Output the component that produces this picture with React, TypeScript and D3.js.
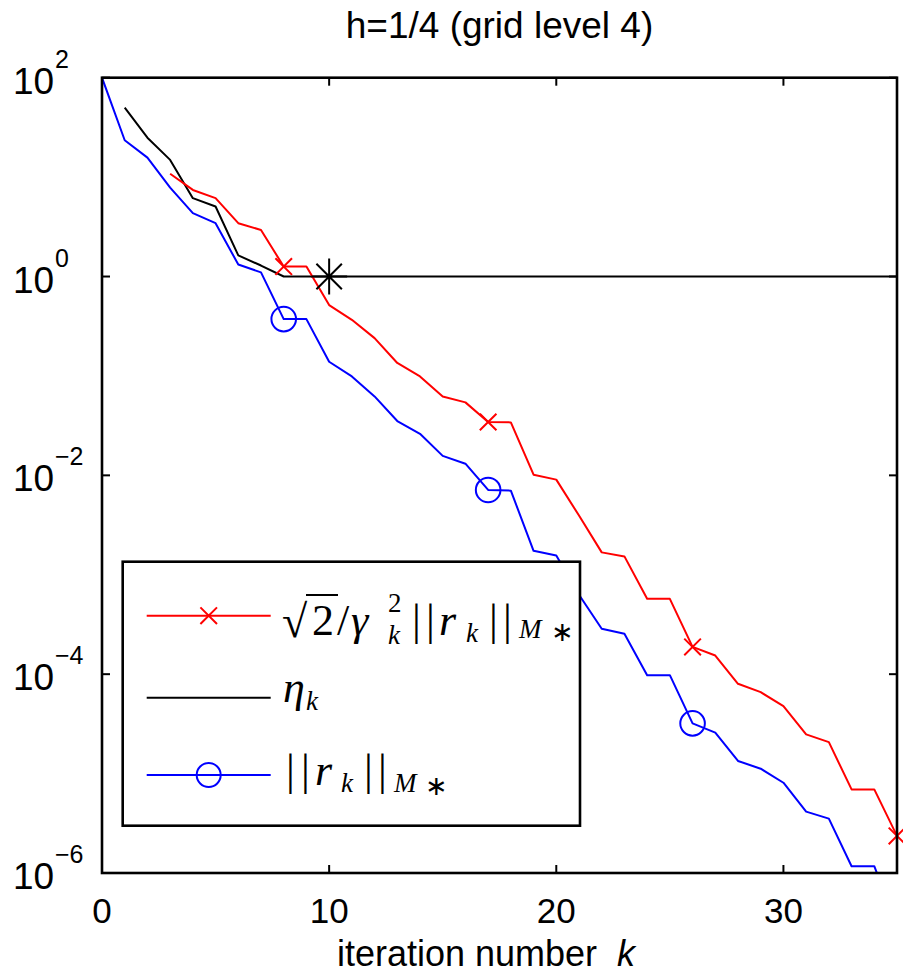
import * as d3 from 'd3'

// iteration numbers and the three series (log y)
const blueK = d3.range(0, 36)
const blueVals = [100, 23.5, 15.7, 7.83, 4.34, 3.44, 1.32, 1.10, 0.373, 0.373, 0.139, 0.0989, 0.0622, 0.0352,
  0.0262, 0.0157, 0.0131, 0.00713, 0.00702, 0.00174, 0.00156, 0.00063, 0.000286, 0.000255, 9.77e-5, 9.77e-5,
  3.2e-5, 2.58e-5, 1.34e-5, 1.12e-5, 8.09e-6, 4.14e-6, 3.52e-6, 1.17e-6, 1.17e-6, 2.95e-7]
const redK = d3.range(3, 36)
const redVals = [10.8, 7.43, 6.14, 3.44, 2.94, 1.26, 1.26, 0.516, 0.367, 0.240, 0.135, 0.0989, 0.0622, 0.0542,
  0.0344, 0.0341, 0.01016, 0.00906, 0.00394, 0.00168, 0.00153, 0.000573, 0.000573, 0.000188, 0.000154, 8.0e-5,
  6.59e-5, 4.76e-5, 2.48e-5, 2.07e-5, 6.93e-6, 6.93e-6, 2.36e-6]
const blackK = d3.range(1, 36)
const blackVals = [50.0, 24.9, 14.9, 6.14, 5.06, 1.63, 1.29, 1, 1, 1, 1, 1, 1, 1, 1, 1, 1, 1, 1, 1, 1, 1, 1, 1,
  1, 1, 1, 1, 1, 1, 1, 1, 1, 1, 1]

const markerK = [8, 17, 26, 35]
const starK = [10]
const xTicks = [0, 10, 20, 30]
const yTicks = [1e2, 1e0, 1e-2, 1e-4, 1e-6]
const yExp = ['2', '0', '\u22122', '\u22124', '\u22126']

const W = 903, H = 978
const L = 102, R = 897, T = 77.7, B = 873

const x = d3.scaleLinear().domain([0, 35]).range([L, R])
const y = d3.scaleLog().domain([1e-6, 1e2]).range([B, T])

const SANS = '"Liberation Sans", Arial, Helvetica, sans-serif'
const SERIF = '"Liberation Serif", "Times New Roman", serif'

type P = { k: number; v: number }
const zip = (ks: number[], vs: number[]): P[] => ks.map((k, i) => ({ k, v: vs[i] }))
const blue = zip(blueK, blueVals)
const red = zip(redK, redVals)
const black = zip(blackK, blackVals)

const line = d3.line<P>().x(d => x(d.k)).y(d => y(d.v))
const inView = (p: P) => p.v >= 1e-6 && p.v <= 1e2

function Cross({ cx, cy, r, color }: { cx: number; cy: number; r: number; color: string }) {
  return (
    <path d={`M${cx - r},${cy - r}L${cx + r},${cy + r}M${cx - r},${cy + r}L${cx + r},${cy - r}`}
      stroke={color} strokeWidth={2} fill="none" />
  )
}

function Star({ cx, cy, r }: { cx: number; cy: number; r: number }) {
  const d = r * Math.SQRT1_2
  return (
    <path d={`M${cx - r},${cy}L${cx + r},${cy}M${cx},${cy - r}L${cx},${cy + r}` +
      `M${cx - d},${cy - d}L${cx + d},${cy + d}M${cx - d},${cy + d}L${cx + d},${cy - d}`}
      stroke="#000" strokeWidth={2} fill="none" />
  )
}

export default function App() {
  const redMarks = red.filter(p => markerK.includes(p.k) && inView(p))
  const blueMarks = blue.filter(p => markerK.includes(p.k) && inView(p))
  const starMarks = black.filter(p => starK.includes(p.k))

  // legend layout
  const lg = { x: 122.7, y: 561.7, w: 457.3, h: 264 }
  const lx0 = 146.7, lx1 = 270.7, lxm = 208.7
  const rows = [615.7, 697.7, 775]
  const big = 44, sub = 27

  return (
    <svg width={W} height={H} style={{ position: 'absolute', left: 0, top: 0, background: '#fff' }}>
      <defs>
        <clipPath id="plot"><rect x={L} y={T} width={R - L} height={B - T} /></clipPath>
      </defs>
      <rect x={0} y={0} width={W} height={H} fill="#fff" />

      {/* title */}
      <text x={(L + R) / 2} y={38} textAnchor="middle" fontFamily={SANS} fontSize={37}>h=1/4 (grid level 4)</text>

      {/* series */}
      <g clipPath="url(#plot)" fill="none" strokeWidth={2} strokeLinejoin="round">
        <path d={line(black) || ''} stroke="#000" />
        <path d={line(red) || ''} stroke="#ff0000" />
        <path d={line(blue) || ''} stroke="#0000ff" />
      </g>
      {redMarks.map(p => <Cross key={'r' + p.k} cx={x(p.k)} cy={y(p.v)} r={8.3} color="#ff0000" />)}
      {blueMarks.map(p => <circle key={'b' + p.k} cx={x(p.k)} cy={y(p.v)} r={12.3} fill="none" stroke="#0000ff" strokeWidth={2} />)}
      {starMarks.map(p => <Star key={'s' + p.k} cx={x(p.k)} cy={y(p.v)} r={18} />)}

      {/* axes box and ticks */}
      <rect x={L} y={T} width={R - L} height={B - T} fill="none" stroke="#000" strokeWidth={2.6} />
      {xTicks.map(t => (
        <g key={'xt' + t}>
          <line x1={x(t)} x2={x(t)} y1={B} y2={B - 8} stroke="#000" strokeWidth={2} />
          <line x1={x(t)} x2={x(t)} y1={T} y2={T + 8} stroke="#000" strokeWidth={2} />
          <text x={x(t)} y={923} textAnchor="middle" fontFamily={SANS} fontSize={35}>{t}</text>
        </g>
      ))}
      {yTicks.map((t, i) => (
        <g key={'yt' + i}>
          <line x1={L} x2={L + 8} y1={y(t)} y2={y(t)} stroke="#000" strokeWidth={2} />
          <line x1={R} x2={R - 8} y1={y(t)} y2={y(t)} stroke="#000" strokeWidth={2} />
          <text x={13} y={y(t) + 16} fontFamily={SANS} fontSize={37}>10</text>
          <text x={55} y={y(t) - 10} fontFamily={SANS} fontSize={25}>{yExp[i]}</text>
        </g>
      ))}

      {/* x label */}
      <text x={486} y={966} textAnchor="middle" fontFamily={SANS} fontSize={36} xmlSpace="preserve">
        iteration number  <tspan fontStyle="italic">k</tspan>
      </text>

      {/* legend */}
      <rect x={lg.x} y={lg.y} width={lg.w} height={lg.h} fill="#fff" stroke="#000" strokeWidth={2.6} />
      <line x1={lx0} x2={lx1} y1={rows[0]} y2={rows[0]} stroke="#ff0000" strokeWidth={2} />
      <Cross cx={lxm} cy={rows[0]} r={8.3} color="#ff0000" />
      <line x1={lx0} x2={lx1} y1={rows[1]} y2={rows[1]} stroke="#000" strokeWidth={2} />
      <line x1={lx0} x2={lx1} y1={rows[2]} y2={rows[2]} stroke="#0000ff" strokeWidth={2} />
      <circle cx={lxm} cy={rows[2]} r={12} fill="none" stroke="#0000ff" strokeWidth={2} />

      <g fontFamily={SERIF} fill="#000">
        {/* sqrt(2)/gamma_k^2 ||r_k||_M* */}
        <line x1={306} x2={338} y1={595} y2={595} stroke="#000" strokeWidth={2} />
        <text x={282} y={637} fontSize={big + 2}>
          <tspan>{'\u221A'}</tspan>
          <tspan x={312} y={635} fontSize={big}>2</tspan>
          <tspan x={337} y={635} fontSize={big}>/</tspan>
          <tspan x={351} y={635} fontSize={big} fontStyle="italic">{'\u03B3'}</tspan>
          <tspan x={388} y={612} fontSize={sub}>2</tspan>
          <tspan x={388} y={644} fontSize={sub} fontStyle="italic">k</tspan>
          <tspan x={412} y={635} fontSize={big}>|</tspan>
          <tspan x={426} y={635} fontSize={big}>|</tspan>
          <tspan x={439} y={635} fontSize={big} fontStyle="italic">r</tspan>
          <tspan x={466} y={642} fontSize={sub} fontStyle="italic">k</tspan>
          <tspan x={489} y={635} fontSize={big}>|</tspan>
          <tspan x={503} y={635} fontSize={big}>|</tspan>
          <tspan x={519} y={638} fontSize={sub} fontStyle="italic">M</tspan>
          <tspan x={551} y={641} fontSize={sub}>{'\u2217'}</tspan>
        </text>

        {/* eta_k */}
        <text x={283} y={702} fontSize={big} fontStyle="italic">
          {'\u03B7'}
          <tspan x={306} y={710} fontSize={sub}>k</tspan>
        </text>

        {/* ||r_k||_M* */}
        <text x={286} y={785} fontSize={big}>
          <tspan>|</tspan>
          <tspan x={301}>|</tspan>
          <tspan x={315} fontStyle="italic">r</tspan>
          <tspan x={341} y={792} fontSize={sub} fontStyle="italic">k</tspan>
          <tspan x={364} y={785}>|</tspan>
          <tspan x={378}>|</tspan>
          <tspan x={394} y={792} fontSize={sub} fontStyle="italic">M</tspan>
          <tspan x={425} y={795} fontSize={sub}>{'\u2217'}</tspan>
        </text>
      </g>
    </svg>
  )
}
